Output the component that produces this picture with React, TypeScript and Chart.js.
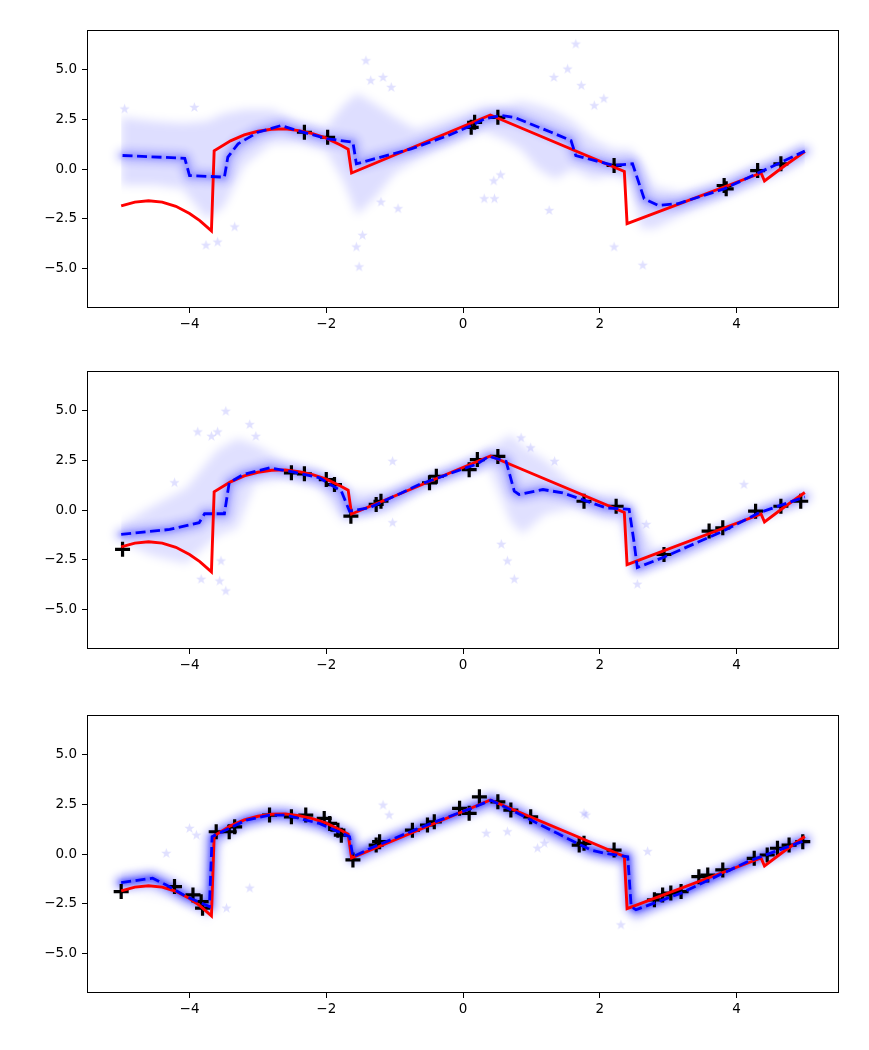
import { useEffect, useRef } from "react";
import { Chart, registerables, type ChartConfiguration, type Plugin } from "chart.js";

Chart.register(...registerables);

// ground truth (same in every panel)
const trueX = [-5.0, -4.8, -4.6, -4.4, -4.2, -4.0, -3.85, -3.68, -3.64, -3.4, -3.2, -3.0, -2.8, -2.6, -2.4, -2.2, -2.0, -1.8, -1.68, -1.63, 0.4, 2.36, 2.4, 4.36, 4.41, 4.7, 5.0];
const trueY = [-1.86, -1.67, -1.6, -1.67, -1.88, -2.24, -2.6, -3.12, 0.92, 1.42, 1.72, 1.9, 2.0, 2.02, 1.93, 1.78, 1.55, 1.22, 1.0, -0.2, 2.72, -0.12, -2.75, -0.2, -0.6, 0.15, 0.88];

// panel 1
const mean1X = [-4.98, -4.07, -4.0, -3.49, -3.44, -3.29, -3.0, -2.66, -2.42, -1.98, -1.61, -1.56, -1.2, -0.76, -0.22, 0.12, 0.31, 0.56, 0.75, 1.29, 1.58, 1.65, 1.92, 2.21, 2.48, 2.65, 2.85, 3.14, 3.82, 4.45, 5.0];
const mean1Y = [0.68, 0.54, -0.33, -0.41, 0.6, 1.27, 1.85, 2.19, 1.93, 1.52, 1.35, 0.26, 0.6, 1.01, 1.68, 2.19, 2.52, 2.69, 2.6, 1.85, 1.43, 0.68, 0.43, 0.18, 0.26, -1.5, -1.83, -1.75, -1.0, 0.01, 0.9];
const obs1X = [-2.32, -1.98, 0.12, 0.17, 0.51, 2.21, 3.82, 3.85, 4.31, 4.65];
const obs1Y = [1.85, 1.6, 2.1, 2.35, 2.6, 0.18, -0.83, -1.0, -0.08, 0.26];
const band1X = [-5.0, -4.5, -4.1, -3.75, -3.5, -3.2, -2.8, -2.4, -2.0, -1.75, -1.55, -1.3, -1.0, -0.7, -0.4, 0.0, 0.3, 0.6, 0.85, 1.1, 1.35, 1.6, 1.9, 2.2, 2.45, 2.6, 2.8, 3.2, 3.7, 4.2, 4.7, 5.0];
const band1Hi = [2.6, 2.4, 2.3, 2.4, 2.8, 3.0, 3.0, 2.4, 2.1, 3.2, 3.8, 3.3, 2.6, 2.0, 2.3, 2.8, 3.2, 3.2, 3.4, 3.2, 2.9, 2.4, 1.5, 1.0, 1.0, 0.4, -0.9, -1.2, -0.7, 0.1, 0.7, 1.3];
const band1Lo = [-0.8, -0.8, -1.0, -2.5, -1.9, 0.2, 1.3, 1.3, 0.9, -0.6, -2.3, -1.5, -0.2, 0.4, 0.9, 1.5, 1.9, 1.5, 1.0, 0.0, -0.5, 0.0, -0.5, -0.3, -0.7, -3.0, -3.0, -2.3, -1.6, -0.9, -0.2, 0.4];
const star1X = [-4.95, -3.93, -3.76, -3.59, -3.34, -1.42, -1.35, -1.17, -1.05, -1.52, -1.56, -1.47, -1.2, -0.95, 1.65, 1.33, 1.53, 1.73, 1.92, 2.06, 2.21, 2.63, 1.26, 0.31, 0.46, 0.45, 0.55];
const star1Y = [3.02, 3.1, -3.84, -3.68, -2.92, 5.45, 4.45, 4.61, 4.11, -4.93, -3.93, -3.34, -1.67, -2.0, 6.29, 4.61, 5.03, 4.2, 3.19, 3.54, -3.93, -4.85, -2.09, -1.5, -1.5, -0.6, -0.3];

// panel 2
const mean2X = [-5.0, -4.29, -3.86, -3.78, -3.49, -3.42, -3.22, -2.83, -2.49, -2.1, -1.78, -1.66, -1.37, -0.64, 0.04, 0.19, 0.38, 0.63, 0.75, 0.82, 1.17, 1.46, 2.09, 2.43, 2.5, 2.55, 2.92, 3.8, 4.33, 5.0];
const mean2Y = [-1.23, -0.98, -0.64, -0.19, -0.19, 1.37, 1.78, 2.12, 1.92, 1.62, 0.95, -0.06, 0.11, 1.28, 2.12, 2.29, 2.7, 2.45, 0.95, 0.78, 1.03, 0.86, 0.11, 0.03, -1.57, -2.9, -2.4, -1.07, -0.14, 0.66];
const obs2X = [-4.98, -2.51, -2.32, -2.0, -1.88, -1.64, -1.27, -1.2, -0.49, -0.39, 0.09, 0.21, 0.51, 1.77, 2.24, 2.94, 3.6, 3.8, 4.28, 4.65, 4.94];
const obs2Y = [-1.98, 1.87, 1.82, 1.53, 1.28, -0.31, 0.28, 0.44, 1.37, 1.7, 2.03, 2.54, 2.7, 0.44, 0.19, -2.24, -1.06, -0.9, -0.06, 0.19, 0.44];
const band2X = [-5.0, -4.54, -4.05, -3.6, -3.3, -3.05, -2.6, -2.1, -1.75, -1.5, -1.1, -0.64, -0.15, 0.38, 0.7, 0.87, 1.2, 1.6, 2.0, 2.3, 2.5, 2.8, 3.3, 3.8, 4.28, 4.77, 5.0];
const band2Hi = [-0.7, 0.2, 1.1, 3.0, 3.6, 3.3, 2.45, 1.95, 1.2, 0.9, 1.0, 1.6, 2.2, 3.1, 3.8, 3.2, 2.5, 1.3, 0.8, 0.8, -0.2, -2.0, -1.55, -0.75, 0.05, 0.7, 0.95];
const band2Lo = [-1.6, -2.3, -2.7, -1.3, -0.9, 1.3, 1.6, 1.1, -0.6, -0.3, -0.1, 0.95, 1.7, 2.1, -0.6, -1.2, -0.2, 0.1, -0.4, -0.6, -3.3, -2.9, -2.25, -1.4, -0.5, 0.1, 0.4];
const star2X = [-3.47, -3.88, -3.68, -3.59, -3.12, -3.03, -4.22, -1.03, -1.03, -3.54, -3.56, -3.47, -3.83, 0.85, 0.99, 1.34, 0.56, 0.65, 0.75, 4.11, 2.68, 2.55];
const star2Y = [4.97, 3.93, 3.71, 3.93, 4.3, 3.71, 1.37, 2.45, -0.64, -2.57, -3.58, -4.08, -3.49, 3.63, 3.13, 2.45, -1.73, -2.57, -3.49, 1.28, -0.73, -3.74];

// panel 3
const mean3X = [-5.0, -4.54, -4.34, -4.05, -3.71, -3.67, -3.47, -3.17, -2.83, -2.59, -2.1, -1.71, -1.66, -1.61, -1.3, -0.47, 0.12, 0.41, 0.8, 1.38, 1.87, 2.07, 2.41, 2.46, 2.53, 3.19, 4.16, 5.0];
const mean3Y = [-1.44, -1.22, -1.56, -2.14, -2.65, 0.87, 1.21, 1.71, 1.96, 1.96, 1.54, 0.95, 0.87, -0.14, 0.37, 1.54, 2.3, 2.71, 2.05, 1.04, 0.2, 0.04, -0.14, -2.65, -2.81, -1.97, -0.39, 0.68];
const obs3X = [-5.0, -4.22, -3.95, -3.83, -3.81, -3.61, -3.42, -3.34, -2.83, -2.51, -2.3, -2.03, -1.95, -1.78, -1.83, -1.61, -1.27, -1.22, -0.74, -0.52, -0.42, -0.05, 0.09, 0.24, 0.51, 0.7, 0.99, 1.7, 1.77, 2.21, 2.8, 2.92, 3.04, 3.19, 3.45, 3.58, 3.8, 4.26, 4.45, 4.6, 4.77, 4.97];
const obs3Y = [-1.89, -1.64, -2.06, -2.4, -2.73, 1.12, 1.12, 1.37, 1.96, 1.87, 1.96, 1.79, 1.54, 0.95, 1.2, -0.3, 0.45, 0.62, 1.2, 1.46, 1.62, 2.3, 2.05, 2.88, 2.63, 2.21, 1.87, 0.45, 0.54, 0.2, -2.31, -2.06, -1.97, -1.89, -1.14, -1.06, -0.8, -0.22, -0.05, 0.29, 0.45, 0.62];
const band3X = [-5.0, -4.6, -4.2, -3.9, -3.72, -3.6, -3.2, -2.8, -2.4, -2.0, -1.7, -1.6, -1.2, -0.6, 0.0, 0.4, 0.8, 1.2, 1.6, 2.0, 2.4, 2.5, 2.9, 3.4, 3.9, 4.4, 5.0];
const band3Hi = [-1.0, -0.8, -1.2, -1.8, -2.2, 1.5, 2.1, 2.4, 2.3, 1.9, 1.3, 0.3, 0.8, 1.6, 2.5, 3.1, 2.5, 1.6, 1.0, 0.5, 0.4, -2.2, -1.7, -1.1, -0.4, 0.2, 1.1];
const band3Lo = [-1.8, -2.0, -2.3, -2.9, -3.4, 0.4, 1.3, 1.6, 1.5, 1.1, 0.5, -0.6, -0.1, 1.0, 1.8, 2.3, 1.6, 0.8, 0.1, -0.3, -0.6, -3.6, -2.5, -1.8, -1.2, -0.5, 0.3];
const star3X = [-4.0, -3.9, -4.34, -3.12, -3.46, -1.17, -1.08, 0.34, 0.65, 1.09, 1.19, 1.77, 1.8, 2.7, 2.31];
const star3Y = [1.29, 0.95, 0.03, -1.72, -2.73, 2.46, 1.96, 1.04, 1.12, 0.29, 0.54, 2.05, 1.96, 0.12, -3.57];

const xTicks = [-4, -2, 0, 2, 4];
const yTicks = [-5, -2.5, 0, 2.5, 5];

const minus = (s: string) => s.replace("-", "\u2212");

function makeStar(r: number, color: string): HTMLCanvasElement {
  const c = document.createElement("canvas");
  const s = Math.ceil(r * 2 + 2);
  c.width = s;
  c.height = s;
  const g = c.getContext("2d")!;
  g.beginPath();
  for (let i = 0; i < 10; i++) {
    const a = -Math.PI / 2 + (i * Math.PI) / 5;
    const rr = i % 2 === 0 ? r : r * 0.4;
    g.lineTo(s / 2 + rr * Math.cos(a), s / 2 + rr * Math.sin(a));
  }
  g.closePath();
  g.fillStyle = color;
  g.fill();
  return c;
}

// axes box like matplotlib spines
const frame: Plugin = {
  id: "frame",
  afterDraw(chart) {
    const { ctx, chartArea: a } = chart;
    ctx.save();
    ctx.strokeStyle = "#000";
    ctx.lineWidth = 1;
    ctx.strokeRect(Math.round(a.left) + 0.5, Math.round(a.top) + 0.5, Math.round(a.width) - 1, Math.round(a.height) - 1);
    ctx.restore();
  },
};

// soften the sample cloud: blur the band fill and the halo strokes
const soften: Plugin = {
  id: "soften",
  beforeRender(chart) {
    chart.ctx.filter = "blur(5px)";
  },
  beforeDraw(chart) {
    chart.ctx.filter = "none";
  },
  beforeDatasetDraw(chart, args) {
    const label = chart.data.datasets[args.index].label || "";
    if (label === "halo") chart.ctx.filter = "blur(4px)";
    if (label === "core") chart.ctx.filter = "blur(2px)";
  },
  afterDatasetDraw(chart) {
    chart.ctx.filter = "none";
  },
};

const pts = (xs: number[], ys: number[]) => xs.map((x, i) => ({ x, y: ys[i] }));

interface PanelProps {
  top: number;
  mx: number[];
  my: number[];
  ox: number[];
  oy: number[];
  bx: number[];
  blo: number[];
  bhi: number[];
  sx: number[];
  sy: number[];
  halo: number;
  core: number;
  band: number;
}

const W = 869;
const H = 341;
const font = { family: "DejaVu Sans", size: 13.5 };

function Panel(p: PanelProps) {
  const canvasRef = useRef<HTMLCanvasElement>(null);

  useEffect(() => {
    const canvas = canvasRef.current;
    if (!canvas) return;
    const star = makeStar(5.5, "rgba(0,0,255,0.12)");

    const config: ChartConfiguration = {
      type: "line",
      data: {
        datasets: [
          { label: "mean", data: pts(p.mx, p.my), borderColor: "#0000ff", borderWidth: 2.8, borderDash: [10, 4.5], pointRadius: 0, fill: false },
          { label: "true", data: pts(trueX, trueY), borderColor: "#ff0000", borderWidth: 2.9, pointRadius: 0, fill: false },
          {
            label: "obs", data: pts(p.ox, p.oy), showLine: false, pointStyle: "cross",
            pointRadius: 7.5, pointBorderColor: "#000", pointBorderWidth: 3.2, borderColor: "#000",
          },
          { label: "stars", data: pts(p.sx, p.sy), showLine: false, pointStyle: star, pointRadius: 5.5 },
          {
            label: "core", data: pts(p.mx, p.my), borderColor: `rgba(0,0,255,${p.core})`, borderWidth: 5,
            pointRadius: 0, borderJoinStyle: "round", borderCapStyle: "round", fill: false,
          },
          {
            label: "halo", data: pts(p.mx, p.my), borderColor: `rgba(0,0,255,${p.halo})`, borderWidth: 13,
            pointRadius: 0, borderJoinStyle: "round", borderCapStyle: "round", fill: false,
          },
          {
            label: "hi", data: pts(p.bx, p.bhi), borderColor: "rgba(0,0,0,0)", borderWidth: 0, pointRadius: 0,
            fill: "+1", backgroundColor: `rgba(0,0,255,${p.band})`,
          },
          { label: "lo", data: pts(p.bx, p.blo), borderColor: "rgba(0,0,0,0)", borderWidth: 0, pointRadius: 0, fill: false },
        ],
      },
      options: {
        responsive: false,
        animation: false,
        devicePixelRatio: 1,
        events: [],
        layout: { padding: { top: 30, right: 30, left: 0, bottom: 0 } },
        plugins: {
          legend: { display: false },
          tooltip: { enabled: false },
          filler: { drawTime: "beforeDraw" },
        },
        scales: {
          x: {
            type: "linear",
            min: -5.5,
            max: 5.5,
            afterBuildTicks: (s) => { s.ticks = xTicks.map((v) => ({ value: v })); },
            afterFit: (s) => { s.height = 33; },
            grid: { display: true, drawOnChartArea: false, drawTicks: true, tickLength: 5, color: "#000", lineWidth: 1 },
            border: { display: false },
            ticks: { color: "#000", font, padding: 3, maxRotation: 0, autoSkip: false, callback: (v) => minus(Number(v).toFixed(0)) },
          },
          y: {
            type: "linear",
            min: -7,
            max: 7,
            afterBuildTicks: (s) => { s.ticks = yTicks.map((v) => ({ value: v })); },
            afterFit: (s) => { s.width = 87; },
            grid: { display: true, drawOnChartArea: false, drawTicks: true, tickLength: 5, color: "#000", lineWidth: 1 },
            border: { display: false },
            ticks: { color: "#000", font, padding: 5, autoSkip: false, callback: (v) => minus(Number(v).toFixed(1)) },
          },
        },
      },
      plugins: [soften, frame],
    };

    const chart = new Chart(canvas, config);
    return () => chart.destroy();
  }, [p]);

  return (
    <canvas
      ref={canvasRef}
      width={W}
      height={H}
      style={{ position: "absolute", left: 0, top: p.top, width: W, height: H }}
    />
  );
}

const panels: PanelProps[] = [
  { top: 0, mx: mean1X, my: mean1Y, ox: obs1X, oy: obs1Y, bx: band1X, blo: band1Lo, bhi: band1Hi, sx: star1X, sy: star1Y, halo: 0.2, core: 0.18, band: 0.13 },
  { top: 341, mx: mean2X, my: mean2Y, ox: obs2X, oy: obs2Y, bx: band2X, blo: band2Lo, bhi: band2Hi, sx: star2X, sy: star2Y, halo: 0.22, core: 0.2, band: 0.12 },
  { top: 685, mx: mean3X, my: mean3Y, ox: obs3X, oy: obs3Y, bx: band3X, blo: band3Lo, bhi: band3Hi, sx: star3X, sy: star3Y, halo: 0.38, core: 0.4, band: 0.07 },
];

export default function App() {
  return (
    <div style={{ position: "absolute", left: 0, top: 0, width: W, height: 1050, background: "#fff" }}>
      {panels.map((p, i) => (
        <Panel key={i} {...p} />
      ))}
    </div>
  );
}
